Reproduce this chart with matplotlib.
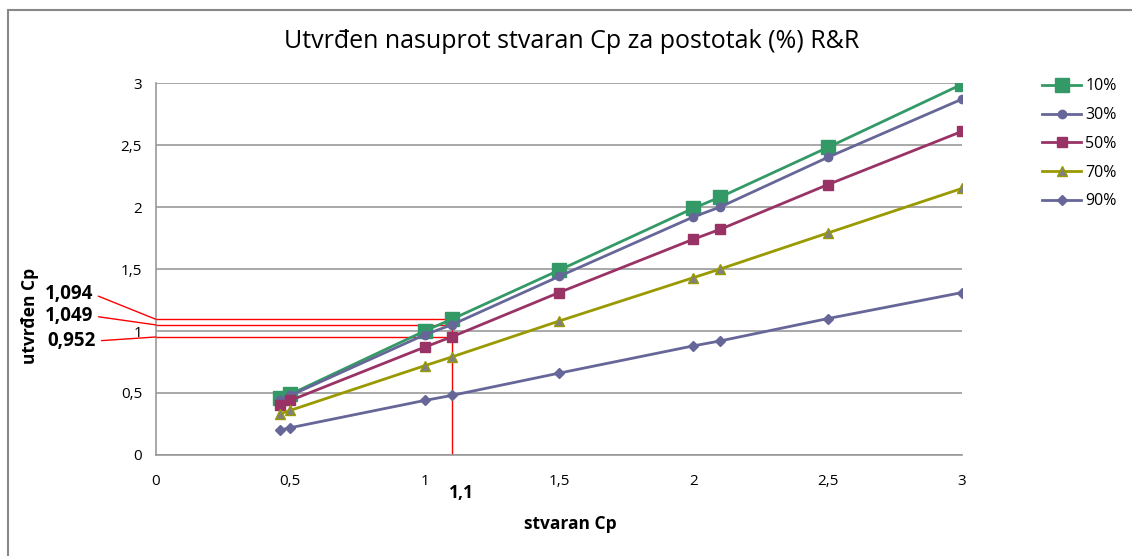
import matplotlib.pyplot as plt
import numpy as np
from matplotlib.lines import Line2D
from matplotlib.patches import Rectangle
from matplotlib.ticker import FuncFormatter, MultipleLocator

# stvaran Cp (x) i utvrđen Cp (y) za različite postotke R&R
stvaran_cp = [0.46, 0.5, 1.0, 1.1, 1.5, 2.0, 2.1, 2.5, 3.0]
cp_10 = [0.46, 0.49, 1.00, 1.094, 1.49, 1.99, 2.08, 2.48, 2.99]
cp_30 = [0.44, 0.48, 0.97, 1.049, 1.44, 1.92, 2.00, 2.40, 2.87]
cp_50 = [0.40, 0.44, 0.87, 0.952, 1.31, 1.74, 1.82, 2.18, 2.61]
cp_70 = [0.33, 0.36, 0.72, 0.79, 1.08, 1.43, 1.50, 1.79, 2.15]
cp_90 = [0.20, 0.22, 0.44, 0.48, 0.66, 0.88, 0.92, 1.10, 1.31]

oznaka_x = 1.1
oznake_y = [1.094, 1.049, 0.952]
oznake_txt = ["1,094", "1,049", "0,952"]

TXT = ["Open Sans", "DejaVu Sans"]

fig = plt.figure(figsize=(11.32, 5.56), dpi=100)
ax = fig.add_axes([156 / 1132, 1 - 455 / 556, 806 / 1132, 372 / 556])

# okvir grafikona (lijevo i gore vidljivo)
fig.patches.append(Rectangle((8 / 1132, -0.1), 1.2, (556 - 10) / 556 + 0.1,
                             transform=fig.transFigure, fill=False,
                             edgecolor="#888888", linewidth=1.5))

serije = [
    ("10%", cp_10, "#339966", "s", 9.5, "#339966", "#339966"),
    ("30%", cp_30, "#666699", "o", 6, "#666699", "#666699"),
    ("50%", cp_50, "#993366", "s", 6.5, "#993366", "#993366"),
    ("70%", cp_70, "#999900", "^", 7.5, "#808080", "#999900"),
    ("90%", cp_90, "#666699", "D", 5.5, "#666699", "#666699"),
]

# crvene pomoćne linije
ax.plot([oznaka_x, oznaka_x], [0, oznake_y[0]], color="red", linewidth=1, zorder=2)
for v in oznake_y:
    ax.plot([0, oznaka_x], [v, v], color="red", linewidth=1, zorder=2)

for label, vals, col, mk, ms, fc, ec in serije:
    ax.plot(stvaran_cp, vals, color=col, linewidth=2, marker=mk, markersize=ms,
            markerfacecolor=fc, markeredgecolor=ec, label=label, zorder=3)

ax.set_xlim(0, 3)
ax.set_ylim(0, 3)
ax.xaxis.set_major_locator(MultipleLocator(0.5))
ax.yaxis.set_major_locator(MultipleLocator(0.5))
fmt = FuncFormatter(lambda v, p: f"{v:g}".replace(".", ","))
ax.xaxis.set_major_formatter(fmt)
ax.yaxis.set_major_formatter(fmt)
ax.tick_params(length=0, labelsize=11)
ax.tick_params(axis="x", pad=14)
ax.tick_params(axis="y", pad=10)
for t in ax.get_xticklabels() + ax.get_yticklabels():
    t.set_family(TXT)
ax.grid(axis="y", color="#999999", linewidth=1.2)
ax.set_axisbelow(True)
for s in ["top", "right"]:
    ax.spines[s].set_visible(False)
for s in ["left", "bottom"]:
    ax.spines[s].set_color("#999999")
    ax.spines[s].set_linewidth(1.2)

fig.text(572 / 1132, 1 - 42 / 556,
         "Utvrđen nasuprot stvaran Cp za postotak (%) R&R",
         ha="center", va="center", fontsize=18,
         family=["Liberation Sans Narrow", "Open Sans", "DejaVu Sans"])
fig.text(570 / 1132, 1 - 524 / 556, "stvaran Cp", ha="center", va="center",
         fontsize=12.5, fontweight="bold", family=TXT)
fig.text(30 / 1132, 1 - 316 / 556, "utvrđen Cp", ha="center", va="center",
         rotation=90, fontsize=12.5, fontweight="bold", family=TXT)
ax.annotate("1,1", xy=(oznaka_x, 0), xytext=(10, -38), textcoords="offset pixels",
            ha="center", va="center", fontsize=12.5, fontweight="bold", family=TXT)

# oznake vrijednosti lijevo od osi
pozicije = [(93, 294), (93, 316), (96, 341)]
for v, txt, (px, py) in zip(oznake_y, oznake_txt, pozicije):
    ax.annotate(txt, xy=(0, v), xycoords="data",
                xytext=(px, 556 - py), textcoords="figure pixels",
                ha="right", va="center", fontsize=13.5, fontweight="bold", family=TXT,
                arrowprops=dict(arrowstyle="-", color="red", linewidth=1,
                                relpos=(1, 0.5), shrinkA=2, shrinkB=0))

ax.legend(loc="upper left", bbox_to_anchor=(1028 / 1132, 1 - 64 / 556),
          bbox_transform=fig.transFigure, frameon=False,
          labelspacing=0.8, handlelength=2.4, handletextpad=0.3,
          prop={"family": TXT, "size": 11.5})

plt.savefig("out.png", dpi=100)
plt.close()
